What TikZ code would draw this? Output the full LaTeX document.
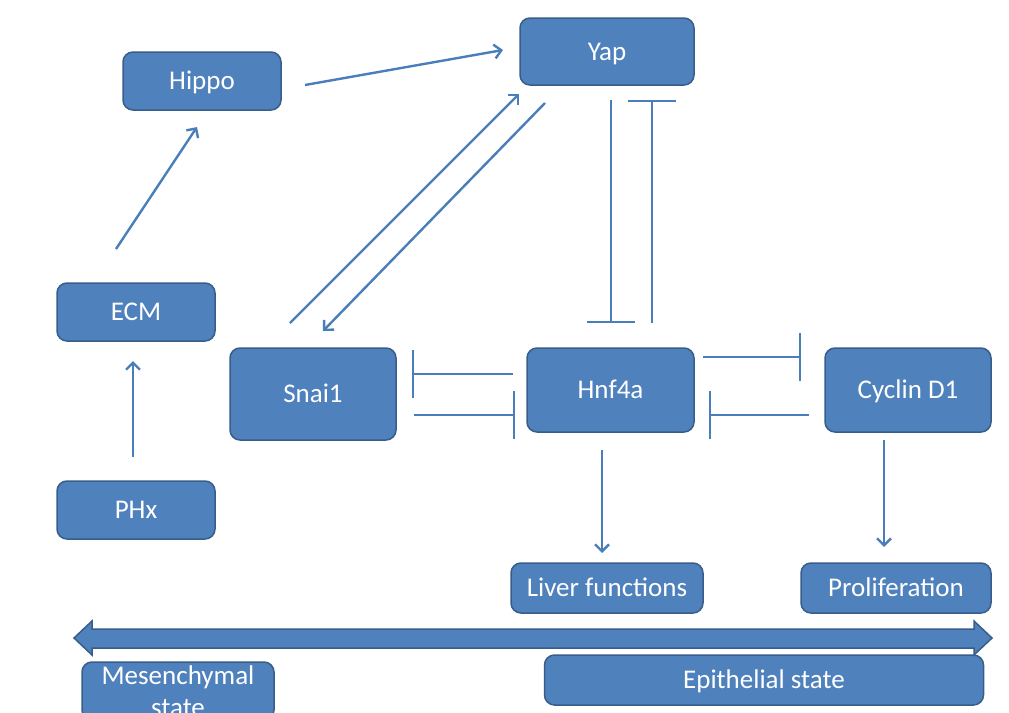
\documentclass[tikz,border=0pt]{standalone}
\usepackage{fontspec}
\setmainfont{Carlito}
\usetikzlibrary{arrows.meta}
\definecolor{boxfill}{HTML}{4F81BD}
\definecolor{boxdraw}{HTML}{385D8A}
\definecolor{linkc}{HTML}{4A7EBB}
\begin{document}
\begin{tikzpicture}[x=1pt,y=-1pt,
  box/.style={draw=boxdraw, fill=boxfill, line width=1.5pt, rounded corners=10pt,
    text=white, font=\fontsize{27}{32}\selectfont, inner sep=0pt, align=center},
  one/.style={text height=17.5pt, text depth=0pt},
  link/.style={draw=linkc, line width=2.4pt, -{Straight Barb[length=7pt,width=14pt]}},
  inhib/.style={draw=linkc, line width=2.4pt, -{Bar[width=48pt]}}]
\useasboundingbox (0,0) rectangle (1009,712);
\clip (0,0) rectangle (1009,712);

% nodes
\node[box, one, minimum width=158pt, minimum height=58pt] (hippo) at (202,81) {Hippo};
\node[box, one, minimum width=174pt, minimum height=67pt] (yap) at (607,51.5) {Yap};
\node[box, one, minimum width=158pt, minimum height=58pt] (ecm) at (136,312) {ECM};
\node[box, one, minimum width=158pt, minimum height=58pt] (phx) at (136,510) {PHx};
\node[box, one, minimum width=166pt, minimum height=92pt] (snai) at (313,394) {Snai1};
\node[box, one, minimum width=167pt, minimum height=84pt] (hnf) at (610.5,390) {Hnf4a};
\node[box, one, minimum width=166pt, minimum height=84pt] (cyc) at (908,390) {Cyclin D1};
\node[box, one, minimum width=192pt, minimum height=50pt] (liver) at (607,588) {Liver functions};
\node[box, one, minimum width=190pt, minimum height=50pt] (prolif) at (896,588) {Proliferation};
\node[box, minimum width=192pt, minimum height=58pt] (mes) at (178,691) {Mesenchymal\\state};
\node[box, one, minimum width=439pt, minimum height=50pt] (epi) at (764,680) {Epithelial state};

% big double arrow
\path[draw=boxdraw, fill=boxfill, line width=1.5pt, line join=miter]
  (74,638) -- (92,621) -- (92,629) -- (974,629) -- (974,621) -- (992,638)
  -- (974,655) -- (974,648) -- (92,648) -- (92,655) -- cycle;

% connector end points
\coordinate (hy1) at (305,85);   \coordinate (hy2) at (503,50);
\coordinate (eh1) at (116,249);  \coordinate (eh2) at (197,127);
\coordinate (pe1) at (133,457);  \coordinate (pe2) at (133,361);
\coordinate (sy1) at (290,323);  \coordinate (sy2) at (519,94);
\coordinate (ys1) at (545,103);  \coordinate (ys2) at (323,331);
\coordinate (yh1) at (611,100);  \coordinate (yh2) at (611,323);
\coordinate (hy3) at (652,323);  \coordinate (hy4) at (652,100);
\coordinate (hs1) at (513,374);  \coordinate (hs2) at (412,374);
\coordinate (sh1) at (414,415);  \coordinate (sh2) at (515,415);
\coordinate (hc1) at (703,357);  \coordinate (hc2) at (801,357);
\coordinate (ch1) at (809,415);  \coordinate (ch2) at (709,415);
\coordinate (hl1) at (602,450);  \coordinate (hl2) at (602,553);
\coordinate (cp1) at (884,440);  \coordinate (cp2) at (884,547);

% connectors
\draw[link] (hy1) -- (hy2);
\draw[link] (eh1) -- (eh2);
\draw[link] (pe1) -- (pe2);
\draw[link] (sy1) -- (sy2);
\draw[link] (ys1) -- (ys2);
\draw[inhib] (yh1) -- (yh2);
\draw[inhib] (hy3) -- (hy4);
\draw[inhib] (hs1) -- (hs2);
\draw[inhib] (sh1) -- (sh2);
\draw[inhib] (hc1) -- (hc2);
\draw[inhib] (ch1) -- (ch2);
\draw[link] (hl1) -- (hl2);
\draw[link] (cp1) -- (cp2);
\end{tikzpicture}
\end{document}
